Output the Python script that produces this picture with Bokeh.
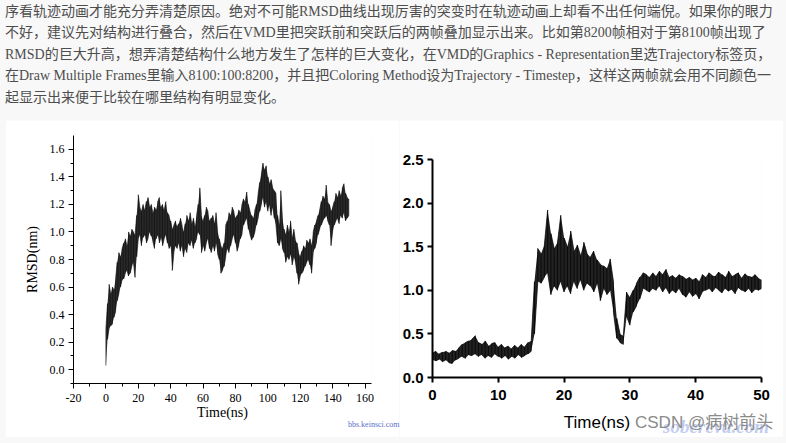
from bokeh.plotting import figure
from bokeh.models import Div, SingleIntervalTicker, Range1d, PrintfTickFormatter
from bokeh.layouts import column, row
from bokeh.embed import file_html
from bokeh.resources import INLINE

# ---------------- text ----------------
text_lines = [
    "序看轨迹动画才能充分弄清楚原因。绝对不可能RMSD曲线出现厉害的突变时在轨迹动画上却看不出任何端倪。如果你的眼力",
    "不好，建议先对结构进行叠合，然后在VMD里把突跃前和突跃后的两帧叠加显示出来。比如第8200帧相对于第8100帧出现了",
    "RMSD的巨大升高，想弄清楚结构什么地方发生了怎样的巨大变化，在VMD的Graphics - Representation里选Trajectory标签页，",
    "在Draw Multiple Frames里输入8100:100:8200，并且把Coloring Method设为Trajectory - Timestep，这样这两帧就会用不同颜色一",
    "起显示出来便于比较在哪里结构有明显变化。",
]
watermark_left = "bbs.keinsci.com"
watermark_right = "CSDN @病树前头"
watermark_back = "sobereva.com"

# ---------------- left chart data (RMSD band, every 1 ns) ----------------
left_time = list(range(0, 151))
left_lo = [0.03, 0.22, 0.30, 0.32, 0.33, 0.38, 0.42, 0.50, 0.55, 0.60,
           0.65, 0.66, 0.70, 0.72, 0.68, 0.70, 0.75, 0.78, 0.67, 0.82,
           0.95, 0.98, 0.90, 0.96, 0.98, 0.92, 0.95, 1.00, 0.97, 0.93,
           0.88, 0.95, 0.98, 0.92, 0.96, 0.90, 0.95, 0.98, 0.92, 0.88,
           0.90, 0.72, 0.85, 0.90, 0.88, 0.92, 0.86, 0.90, 0.82, 0.88,
           0.85, 0.92, 0.90, 0.94, 0.88, 0.92, 0.95, 1.00, 0.98, 0.85,
           0.90, 0.86, 0.92, 0.95, 0.88, 0.85, 0.90, 0.86, 0.92, 0.84,
           0.80, 0.70, 0.72, 0.75, 0.82, 0.88, 0.85, 0.90, 0.95, 0.98,
           0.92, 0.86, 0.90, 0.95, 0.98, 1.05, 1.08, 1.10, 1.02, 0.98,
           0.94, 0.96, 1.00, 1.05, 1.10, 1.15, 1.20, 1.25, 1.18, 1.22,
           1.15, 1.20, 1.12, 1.18, 1.10, 1.05, 0.92, 0.90, 0.95, 0.88,
           0.85, 0.78, 0.82, 0.80, 0.84, 0.76, 0.82, 0.78, 0.70, 0.62,
           0.68, 0.70, 0.72, 0.75, 0.78, 0.80, 0.76, 0.70, 0.85, 0.88,
           0.92, 0.98, 1.02, 1.05, 1.08, 1.10, 1.12, 1.08, 1.05, 0.90,
           1.00, 1.05, 1.08, 1.10, 1.06, 1.12, 1.10, 1.14, 1.08, 1.10,
           1.12]
left_hi = [0.30, 0.48, 0.62, 0.55, 0.60, 0.58, 0.66, 0.78, 0.85, 0.82,
           0.88, 0.92, 0.95, 0.90, 1.00, 0.97, 1.02, 1.00, 0.98, 1.12,
           1.27, 1.18, 1.15, 1.20, 1.16, 1.22, 1.25, 1.18, 1.20, 1.14,
           1.18, 1.16, 1.22, 1.25, 1.18, 1.20, 1.16, 1.22, 1.14, 1.12,
           1.08, 1.02, 1.05, 1.08, 1.04, 1.06, 1.10, 1.05, 1.00, 1.06,
           1.12, 1.08, 1.14, 1.06, 1.10, 1.04, 1.12, 1.20, 1.32, 1.12,
           1.08, 1.12, 1.18, 1.15, 1.08, 1.10, 1.12, 1.06, 1.14, 1.00,
           0.95, 0.90, 0.88, 0.92, 1.05, 1.08, 1.14, 1.12, 1.18, 1.15,
           1.10, 1.12, 1.16, 1.14, 1.20, 1.24, 1.22, 1.29, 1.20, 1.15,
           1.12, 1.10, 1.16, 1.20, 1.28, 1.36, 1.42, 1.50, 1.45, 1.48,
           1.40, 1.35, 1.38, 1.32, 1.30, 1.28, 1.12, 1.05, 1.30, 1.10,
           1.02, 0.98, 1.05, 1.00, 1.08, 0.96, 1.02, 0.94, 0.92, 0.85,
           0.82, 0.86, 0.90, 0.88, 0.94, 0.92, 0.95, 0.90, 1.00, 1.05,
           1.08, 1.12, 1.16, 1.22, 1.26, 1.24, 1.34, 1.22, 1.20, 1.15,
           1.18, 1.22, 1.28, 1.25, 1.30, 1.26, 1.32, 1.35, 1.28, 1.25,
           1.24]

# ---------------- right chart data (every 0.5 ns) ----------------
right_time = [i * 0.5 for i in range(0, 101)]
right_lo = [0.20, 0.19, 0.21, 0.18, 0.20, 0.17, 0.16, 0.20, 0.22, 0.24,
            0.22, 0.26, 0.25, 0.27, 0.24, 0.26, 0.22, 0.25, 0.23, 0.27,
            0.24, 0.22, 0.25, 0.21, 0.24, 0.22, 0.26, 0.23, 0.25, 0.27,
            0.30, 0.50, 1.10, 1.08, 1.15, 1.20, 0.95, 1.05, 1.00, 1.10,
            0.98, 1.05, 0.96, 1.10, 1.02, 1.12, 1.00, 1.08, 1.05, 0.98,
            1.08, 0.88, 1.02, 0.95, 1.00, 0.75, 0.45, 0.40, 0.38, 0.70,
            0.60, 0.75, 0.82, 0.90, 1.02, 1.00, 0.98, 1.02, 1.00, 1.05,
            0.98, 1.03, 0.96, 1.00, 0.97, 1.02, 0.95, 0.92, 0.98, 0.93,
            0.96, 0.90, 0.98, 1.00, 1.02, 0.98, 1.03, 1.00, 0.97, 1.02,
            0.99, 1.01, 0.96, 1.03, 1.00, 0.98, 1.02, 0.97, 1.01, 1.00,
            1.02]
right_hi = [0.28, 0.30, 0.27, 0.29, 0.30, 0.28, 0.31, 0.30, 0.34, 0.38,
            0.40, 0.42, 0.44, 0.48, 0.40, 0.38, 0.42, 0.36, 0.39, 0.40,
            0.35, 0.38, 0.34, 0.36, 0.33, 0.37, 0.34, 0.38, 0.35, 0.40,
            0.42, 1.10, 1.48, 1.42, 1.52, 1.92, 1.65, 1.48, 1.55, 1.86,
            1.60, 1.50, 1.68, 1.45, 1.52, 1.40, 1.55, 1.42, 1.38, 1.45,
            1.35, 1.30, 1.28, 1.25, 1.36, 1.10, 0.68, 0.50, 0.48, 0.98,
            0.92, 1.00, 1.08, 1.15, 1.20, 1.18, 1.15, 1.20, 1.16, 1.22,
            1.18, 1.24, 1.15, 1.17, 1.14, 1.18, 1.16, 1.13, 1.15, 1.12,
            1.14, 1.10, 1.18, 1.15, 1.20, 1.17, 1.16, 1.21, 1.18, 1.15,
            1.22, 1.16, 1.18, 1.20, 1.14, 1.19, 1.16, 1.15, 1.18, 1.14,
            1.12]

left_xticks = list(range(-20, 161, 20))

PAGE_BG = "#f8f8f8"


def ladder(ts, lo, hi):
    xs, ys = [], []
    for i, (t, a, b) in enumerate(zip(ts, lo, hi)):
        xs += [t, t]
        ys += [a, b] if i % 2 == 0 else [b, a]
    return xs, ys


# ---------------- text block ----------------
inner = ("<div style=\"padding:1px 0 0 5px; font-size:14px; line-height:21.4px; "
         "color:#4d4d4d; font-family:'Liberation Serif','Noto Sans CJK SC',serif; "
         "white-space:nowrap;\">" + "<br>".join(text_lines) + "</div>")
div = Div(text=inner, width=786, height=120, margin=(0, 0, 0, 0),
          styles={"overflow": "hidden", "background-color": PAGE_BG})

# ---------------- left chart ----------------
serif = "Liberation Serif"
p1 = figure(width=394, height=317, output_backend="svg", toolbar_location=None,
            x_range=Range1d(-20, 164), y_range=Range1d(-0.1, 1.7),
            min_border_left=68, min_border_right=28, min_border_top=15,
            min_border_bottom=54, frame_align=False, margin=(0, 0, 0, 5))
p1.outline_line_color = None
p1.grid.visible = False
p1.background_fill_color = "white"
p1.border_fill_color = "white"
p1.varea(x=left_time, y1=left_lo, y2=left_hi, fill_color="#111111", fill_alpha=0.85)
lx, ly = ladder(left_time, left_lo, left_hi)
p1.line(lx, ly, line_color="black", line_width=0.7, line_alpha=0.8)

p1.xaxis.ticker = SingleIntervalTicker(interval=20, num_minor_ticks=2)
p1.yaxis.ticker = SingleIntervalTicker(interval=0.2, num_minor_ticks=2)
p1.yaxis.formatter = PrintfTickFormatter(format="%.1f")
for ax in (p1.xaxis[0], p1.yaxis[0]):
    ax.major_tick_out = 5
    ax.major_tick_in = 0
    ax.minor_tick_out = 3
    ax.minor_tick_in = 0
    ax.axis_line_color = "black"
    ax.major_tick_line_color = "black"
    ax.minor_tick_line_color = "black"
    ax.major_label_text_font = serif
    ax.major_label_text_font_size = "12px"
    ax.major_label_text_color = "black"
    ax.axis_label_text_font = serif
    ax.axis_label_text_font_size = "14px"
    ax.axis_label_text_font_style = "normal"
    ax.axis_label_text_color = "black"
p1.xaxis.axis_label = "Time(ns)"
p1.yaxis.axis_label = "RMSD(nm)"
p1.xaxis.major_label_standoff = 5
p1.yaxis.major_label_standoff = 4
p1.xaxis.axis_label_standoff = 0
p1.yaxis.axis_label_standoff = 7
p1.xaxis.major_label_overrides = {t: str(t) for t in left_xticks}

# ---------------- right chart ----------------
sans = "Liberation Sans"
p2 = figure(width=384, height=317, output_backend="svg", toolbar_location=None,
            x_range=Range1d(0, 50), y_range=Range1d(0, 2.5),
            min_border_left=32, min_border_right=22, min_border_top=39,
            min_border_bottom=60, frame_align=False, margin=(0, 0, 0, 0))
p2.outline_line_color = None
p2.grid.visible = False
p2.background_fill_color = "white"
p2.border_fill_color = "white"
p2.varea(x=right_time, y1=right_lo, y2=right_hi, fill_color="#0a0a0a", fill_alpha=0.9)
rx, ry = ladder(right_time, right_lo, right_hi)
p2.line(rx, ry, line_color="black", line_width=0.8, line_alpha=0.9)

p2.xaxis.ticker = SingleIntervalTicker(interval=10, num_minor_ticks=0)
p2.yaxis.ticker = SingleIntervalTicker(interval=0.5, num_minor_ticks=0)
p2.yaxis.formatter = PrintfTickFormatter(format="%.1f")
for ax in (p2.xaxis[0], p2.yaxis[0]):
    ax.major_tick_out = 5
    ax.major_tick_in = 0
    ax.minor_tick_out = 0
    ax.minor_tick_in = 0
    ax.axis_line_width = 2
    ax.major_tick_line_width = 2
    ax.axis_line_color = "black"
    ax.major_tick_line_color = "black"
    ax.major_label_text_font = sans
    ax.major_label_text_font_size = "15px"
    ax.major_label_text_font_style = "bold"
    ax.major_label_text_color = "black"
p2.xaxis.major_label_standoff = 7
p2.yaxis.major_label_standoff = 4
p2.xaxis.axis_label = "Time(ns)"
p2.xaxis.axis_label_text_font = sans
p2.xaxis.axis_label_text_font_size = "17px"
p2.xaxis.axis_label_text_font_style = "normal"
p2.xaxis.axis_label_text_color = "black"
p2.xaxis.axis_label_standoff = 10

# ---------------- watermarks (overlaid below the plot frames) ----------------
wm_html = (
    "<div style=\"position:relative;width:786px;height:24px;\">"
    "<span style=\"position:absolute;left:348px;top:7px;font-family:'Liberation Serif';"
    "font-size:8px;line-height:10px;color:#5a6ccc;white-space:nowrap;\">" + watermark_left + "</span>"
    "<span style=\"position:absolute;left:663px;top:3px;font-family:'Liberation Serif';"
    "font-size:19px;font-weight:bold;font-style:italic;line-height:22px;color:#c3cdf0;"
    "white-space:nowrap;\">" + watermark_back + "</span>"
    "<span style=\"position:absolute;left:635px;top:0px;font-family:'Liberation Sans','Noto Sans CJK SC';"
    "font-size:17px;line-height:20px;color:#8a8a8a;white-space:nowrap;\">" + watermark_right + "</span>"
    "</div>"
)
wm = Div(text=wm_html, width=786, height=24, margin=(-24, 0, 0, 0),
         styles={"position": "relative", "z-index": "10"})
strip = Div(text="", width=786, height=6, margin=(0, 0, 0, 0))

layout = column(div, row(p1, p2, spacing=0), wm, strip, spacing=0,
                styles={"background-color": PAGE_BG})

open("out.html", "w").write(file_html(layout, INLINE))
